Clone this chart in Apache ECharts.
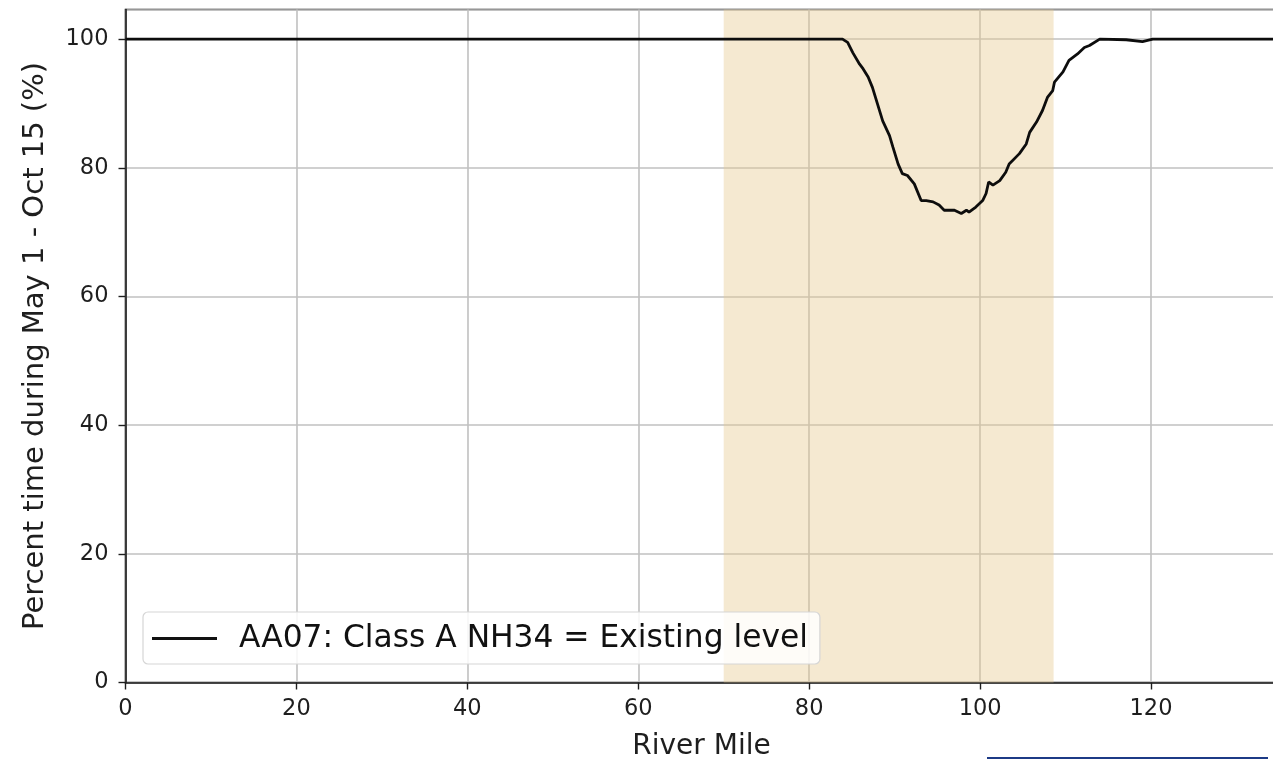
<!DOCTYPE html>
<html>
<head>
<meta charset="utf-8">
<style>
  html, body { margin: 0; padding: 0; background: #ffffff; }
  #chart { width: 1273px; height: 759px; }
</style>
<script src="https://cdn.jsdelivr.net/npm/echarts@6/dist/echarts.min.js"></script>
</head>
<body>
<div id="chart"></div>
<script>
// River mile positions and percent of time (May 1 - Oct 15) meeting the criterion
const riverMile = [
  0, 83.9, 84.5, 85.1, 85.9, 86.3, 86.9, 87.4, 88.0, 88.6, 89.4, 89.8, 90.4,
  90.9, 91.5, 92.3, 93.1, 93.7, 94.5, 95.2, 95.8, 96.0, 97.0, 97.8, 98.4,
  98.7, 99.5, 100.3, 100.7, 101.0, 101.5, 102.3, 103.0, 103.4, 104.6, 105.4,
  105.8, 106.6, 107.3, 107.9, 108.5, 108.7, 109.7, 110.4, 111.4, 112.2,
  112.8, 114.0, 117.1, 117.3, 119.0, 120.2, 140
];
const percentTime = [
  100, 100, 99.5, 97.9, 96.1, 95.4, 94.1, 92.5, 89.9, 87.3, 85.0, 83.2, 80.6,
  79.1, 78.8, 77.5, 74.9, 74.9, 74.7, 74.2, 73.4, 73.6, 73.4, 72.9, 73.4,
  73.1, 73.9, 74.9, 76.0, 77.8, 77.3, 78.0, 79.3, 80.6, 82.2, 83.7,
  85.5, 87.1, 88.9, 91.0, 92.0, 93.3, 94.9, 96.7, 97.7, 98.7,
  99.0, 100, 99.9, 99.7, 99.6, 100, 100
];
// Highlighted reach (river miles)
const reachStart = 70;
const reachEnd = 108.6;

const seriesName = 'AA07: Class A NH34 = Existing level';
const xTicks = [0, 20, 40, 60, 80, 100, 120];
const yTicks = [0, 20, 40, 60, 80, 100];

const points = riverMile.map((m, i) => [m, percentTime[i]]);

const chart = echarts.init(document.getElementById('chart'), null, { renderer: 'canvas' });
const font = 'DejaVu Sans';
const ink = '#1e1e1e';

chart.setOption({
  animation: false,
  backgroundColor: '#ffffff',
  grid: {
    left: 125.5, width: 1152, top: 9.5, height: 673,
    outerBoundsMode: 'none',
    show: true, borderColor: ink, borderWidth: 1.6,
    backgroundColor: 'transparent'
  },
  legend: {
    left: 143, top: 612,
    orient: 'horizontal',
    backgroundColor: 'rgba(255,255,255,0.85)',
    borderColor: '#d6d6d6', borderWidth: 1.2, borderRadius: 5,
    padding: [11, 12, 10, 9],
    itemWidth: 65, itemHeight: 3,
    icon: 'rect',
    textStyle: { fontFamily: font, fontSize: 31.3, color: '#111111', padding: [0, 0, 0, 17] },
    data: [{ name: seriesName, itemStyle: { color: '#111111' } }]
  },
  xAxis: {
    type: 'value', min: 0, max: 134.8, interval: 20,
    name: 'River Mile', nameLocation: 'middle', nameGap: 50,
    nameTextStyle: { fontFamily: font, fontSize: 28, color: ink },
    axisLine: { show: true, onZero: false, lineStyle: { color: ink, width: 1.6 } },
    axisTick: { show: true, length: 7, lineStyle: { color: ink, width: 1.4 } },
    axisLabel: {
      fontFamily: font, fontSize: 22.5, color: ink, margin: 15,
      showMaxLabel: false,
      formatter: v => (xTicks.includes(v) ? String(v) : '')
    },
    splitLine: { show: true, lineStyle: { color: '#c0c0c0', width: 1.6 } }
  },
  yAxis: {
    type: 'value', min: 0, max: 104.6, interval: 20,
    name: 'Percent time during May 1 - Oct 15 (%)', nameLocation: 'middle', nameGap: 76,
    nameTextStyle: { fontFamily: font, fontSize: 29, color: ink },
    axisLine: { show: true, lineStyle: { color: ink, width: 1.6 } },
    axisTick: { show: true, length: 7, lineStyle: { color: ink, width: 1.4 } },
    axisLabel: {
      fontFamily: font, fontSize: 22.5, color: ink, margin: 17,
      showMaxLabel: false,
      formatter: v => (yTicks.includes(v) ? String(v) : '')
    },
    splitLine: { show: true, lineStyle: { color: '#c0c0c0', width: 1.6 } }
  },
  series: [{
    name: seriesName,
    type: 'line',
    data: points,
    showSymbol: false,
    symbol: 'none',
    clip: true,
    lineStyle: { color: '#0d0d0d', width: 2.8 },
    itemStyle: { color: '#0d0d0d' },
    z: 5,
    markArea: {
      silent: true,
      itemStyle: { color: 'rgba(230,200,140,0.4)' },
      data: [[{ xAxis: reachStart }, { xAxis: reachEnd }]]
    }
  }],
  graphic: [{
    type: 'line',
    shape: { x1: 987, y1: 758, x2: 1268, y2: 758 },
    style: { stroke: '#1c3a86', lineWidth: 2 },
    silent: true
  }]
});
</script>
</body>
</html>
